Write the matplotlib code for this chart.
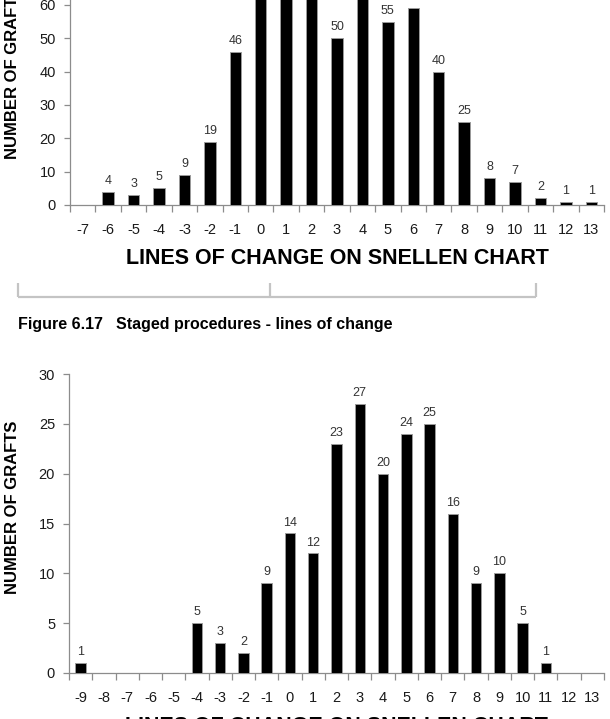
import matplotlib
matplotlib.use("Agg")
import matplotlib.pyplot as plt
from matplotlib.lines import Line2D
import numpy as np

plt.rcParams['font.family'] = ['Liberation Sans', 'DejaVu Sans']

# ---- data ----
top_categories = list(range(-7, 14))
top_values = [None, 4, 3, 5, 9, 19, 46, 66, 68, 64, 50, 67, 55, 59, 40, 25, 8, 7, 2, 1, 1]

bottom_categories = list(range(-9, 14))
bottom_values = [1, None, None, None, None, 5, 3, 2, 9, 14, 12, 23, 27, 20, 24, 25, 16, 9, 10, 5, 1, None, None]

top_yticks = list(range(0, 80, 10))
bottom_yticks = list(range(0, 35, 5))

xlabel_text = "LINES OF CHANGE ON SNELLEN CHART"
ylabel_text = "NUMBER OF GRAFTS"
caption_num = "Figure 6.17"
caption_text = "Staged procedures - lines of change"

W, H = 610, 719
fig = plt.figure(figsize=(W / 100, H / 100), dpi=100)

AX_GRAY = '#8c8c8c'
TXT = '#1a1a1a'


def px_rect(left, right, bottom_px, top_px):
    return [left / W, 1 - bottom_px / H, (right - left) / W, (bottom_px - top_px) / H]


def draw_chart(ax, cats, vals, yticks, ymax):
    n = len(cats)
    xs = np.arange(n)
    heights = [v if v is not None else 0 for v in vals]
    ax.bar(xs, heights, width=0.45, color='black', edgecolor='#9a9a9a', linewidth=0.7, zorder=3)
    for x, v in zip(xs, vals):
        if v is None:
            continue
        ax.annotate(str(v), (x, v), xytext=(0, 3.5), textcoords='offset points',
                    ha='center', va='bottom', fontsize=9, color='#333333', clip_on=False)
    ax.set_xlim(-0.5, n - 0.5)
    ax.set_ylim(0, ymax)
    ax.set_xticks(xs)
    ax.set_xticklabels([str(c) for c in cats], fontsize=10.5, color=TXT)
    ax.set_xticks(np.arange(n + 1) - 0.5, minor=True)
    ax.tick_params(axis='x', which='major', length=0, pad=13)
    ax.tick_params(axis='x', which='minor', length=5, width=0.9, color=AX_GRAY, direction='out')
    ax.set_yticks(yticks)
    ax.set_yticklabels([str(t) for t in yticks], fontsize=10.5, color=TXT)
    ax.tick_params(axis='y', length=4, width=0.9, color=AX_GRAY, direction='out', pad=6)
    for s in ('top', 'right'):
        ax.spines[s].set_visible(False)
    for s in ('left', 'bottom'):
        ax.spines[s].set_color(AX_GRAY)
        ax.spines[s].set_linewidth(0.9)
    ax.set_xlabel(xlabel_text, fontsize=15.5, fontweight='bold', color='black')
    ax.set_ylabel(ylabel_text, fontsize=12, fontweight='bold', color='black')
    return ax


# top chart (extends above the figure, cropped)
h1 = 70 * 200 / 60
ax1 = fig.add_axes(px_rect(70, 604, 205, 205 - h1))
draw_chart(ax1, top_categories, top_values, top_yticks, 70)
ax1.xaxis.set_label_coords(0.5, -53 / h1)
ax1.xaxis.label.set_va('center')
ax1.yaxis.set_label_coords((12.5 - 70) / 534, (205 - 72) / h1)
ax1.yaxis.label.set_va('center')

# bottom chart
ax2 = fig.add_axes(px_rect(69, 604, 673, 374))
draw_chart(ax2, bottom_categories, bottom_values, bottom_yticks, 30)
ax2.xaxis.set_label_coords(0.5, -53 / 299)
ax2.xaxis.label.set_va('center')
ax2.yaxis.set_label_coords((12.5 - 69) / 535, (673 - 507) / 299)
ax2.yaxis.label.set_va('center')

# bracket
BR = '#c4c4c4'


def fline(xp, yp):
    fig.add_artist(Line2D([x / W for x in xp], [1 - y / H for y in yp], color=BR, linewidth=1.6,
                          solid_capstyle='butt'))


fline([18, 536], [297, 297])
fline([18, 18], [283, 297])
fline([270, 270], [283, 297])
fline([536, 536], [283, 297])

# caption
fig.text(18 / W, 1 - 324 / H, caption_num, fontsize=11.5, fontweight='bold', ha='left', va='center')
fig.text(116 / W, 1 - 324 / H, caption_text, fontsize=11.5, fontweight='bold', ha='left', va='center')

fig.savefig('out.png', dpi=100, facecolor='white')
